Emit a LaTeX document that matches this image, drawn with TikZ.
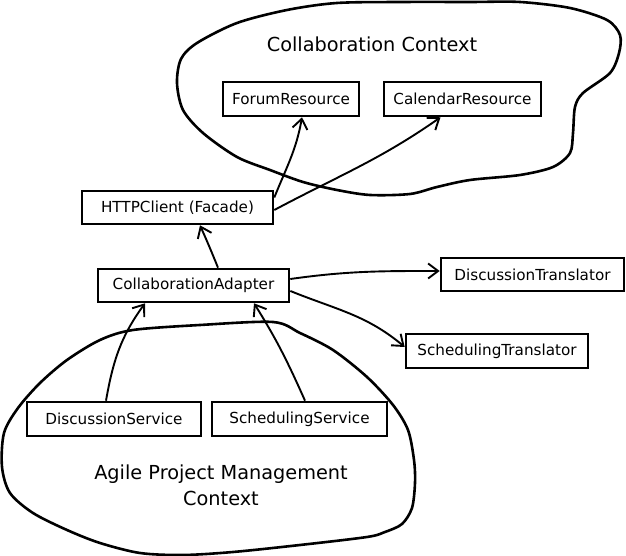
\documentclass[tikz,border=0pt]{standalone}
\usepackage{fontspec}
\setmainfont{DejaVu Sans}
\usetikzlibrary{arrows.meta}
\tikzset{
  boxnode/.style={draw, line width=2.6pt, inner sep=0pt, font=\fontsize{15.2}{18}\selectfont},
  arr/.style={line width=1.9pt, -{Straight Barb[length=10pt,width=15pt]}},
  cloud/.style={line width=2.6pt},
  bigtext/.style={font=\fontsize{19.3}{26}\selectfont, align=center}
}
\begin{document}
\begin{tikzpicture}[x=1pt,y=1pt]
\useasboundingbox (0,0) rectangle (626,556);
% clouds
\draw[cloud] plot[smooth cycle, tension=0.5] coordinates {
 (177,473) (181,497) (197,513) (237,533) (287,546) (337,553) (403,554) (470,554)
 (520,554) (570,548) (607,536) (620,521) (619,503) (610,483) (583,463) (575,449)
 (573,423) (570,403) (553,389) (520,381) (470,376) (437,369) (410,362) (370,361)
 (337,366) (303,374) (270,386) (237,399) (203,423) (183,446)};
\draw[cloud] plot[smooth cycle, tension=0.5] coordinates {
 (273,234) (300,223) (333,206) (367,179) (393,151) (408,126) (414,96) (415,73)
 (412,48) (402,32) (385,24) (367,19) (300,11) (233,4) (183,1) (140,3) (100,13) (67,26)
 (33,43) (10,63) (2,89) (4,123) (18,148) (40,173) (67,196) (100,216) (133,226)
 (200,231)};
% titles
\node[bigtext] (ctitle) at (372,512) {Collaboration Context};
\node[bigtext] (atitle) at (221,71) {Agile Project Management\\Context};
% boxes
\node[boxnode, minimum width=136pt, minimum height=34pt] (forum) at (291,457) {ForumResource};
\node[boxnode, minimum width=157pt, minimum height=34pt] (calendar) at (462.5,457) {CalendarResource};
\node[boxnode, minimum width=191pt, minimum height=33pt] (http) at (177.5,348.5) {HTTPClient (Facade)};
\node[boxnode, minimum width=191pt, minimum height=33pt] (adapter) at (193.5,270.5) {CollaborationAdapter};
\node[boxnode, minimum width=183pt, minimum height=33pt] (dtrans) at (532.5,281.5) {DiscussionTranslator};
\node[boxnode, minimum width=182pt, minimum height=34pt] (strans) at (497,205) {SchedulingTranslator};
\node[boxnode, minimum width=174pt, minimum height=34pt] (dserv) at (114,137) {DiscussionService};
\node[boxnode, minimum width=175pt, minimum height=34pt] (sserv) at (299.5,137) {SchedulingService};
% connectors
\draw[arr] ([yshift=10pt]http.east) to[out=68,in=-100] ([xshift=11pt]forum.south);
\draw[arr] ([yshift=-2.5pt]http.east) to[out=28,in=-145] ([xshift=-22pt]calendar.south);
\draw[arr] ([xshift=24.5pt]adapter.north) to[out=112,in=-66] ([xshift=22.5pt]http.south);
\draw[arr] ([yshift=6.5pt]adapter.east) to[out=8,in=180] ([yshift=3.5pt]dtrans.west);
\draw[arr] ([yshift=-5.5pt]adapter.east) to[out=-22,in=140] ([yshift=4pt]strans.west);
\draw[arr] ([xshift=-8pt]dserv.north) to[out=80,in=-126] ([xshift=-48.5pt]adapter.south);
\draw[arr] ([xshift=5.5pt]sserv.north) to[out=114,in=-58] ([xshift=60.5pt]adapter.south);
\end{tikzpicture}
\end{document}
